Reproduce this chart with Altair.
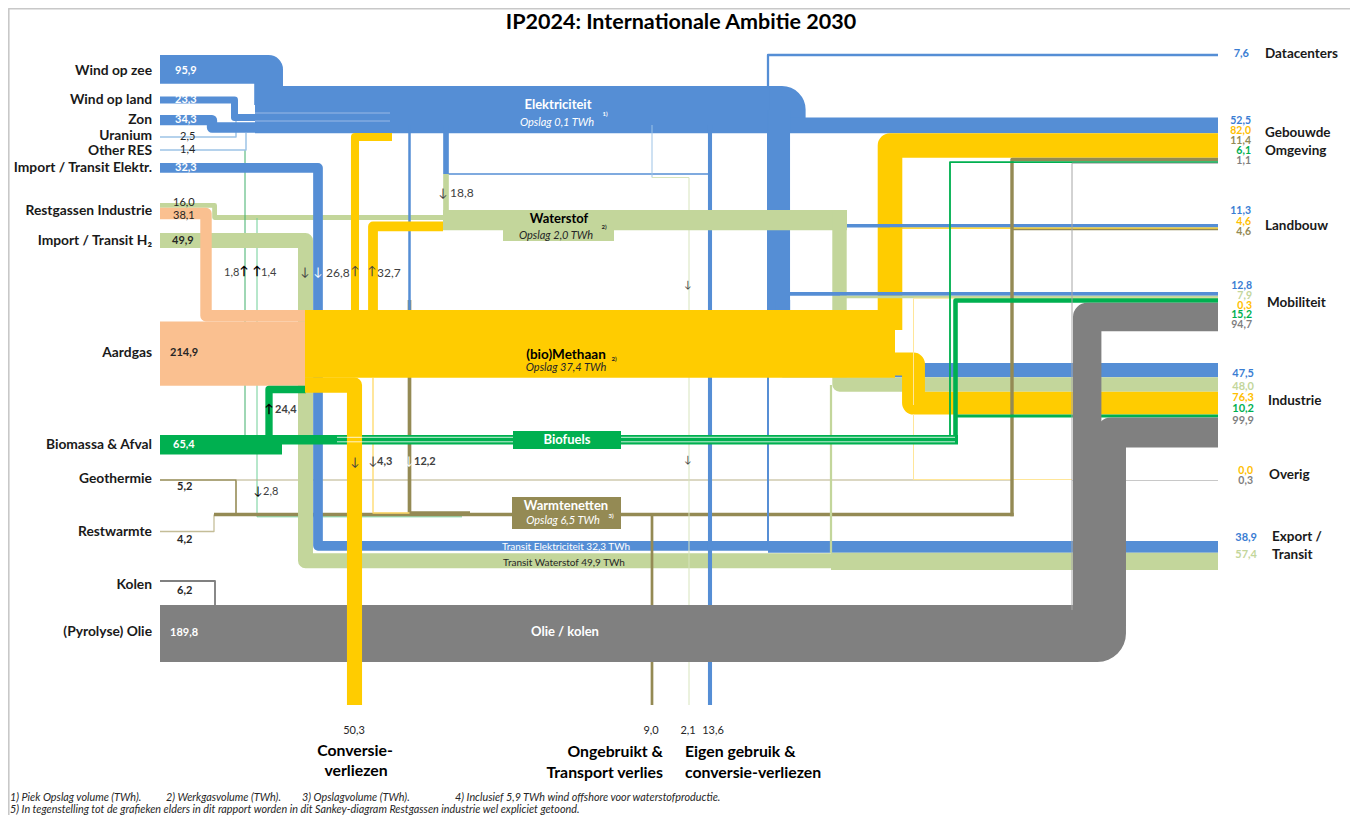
import altair as alt
import pandas as pd

# ---------------- values (TWh) ----------------
SOURCE_NAMES = ["Wind op zee", "Wind op land", "Zon", "Uranium", "Other RES",
                "Import / Transit Elektr.", "Restgassen Industrie", "Import / Transit H₂",
                "Aardgas", "Biomassa & Afval", "Geothermie", "Restwarmte", "Kolen", "(Pyrolyse) Olie"]
ELEC_SOURCES = [95.9, 23.3, 34.3, 2.5, 1.4]      # wind op zee, wind op land, zon, uranium, other RES
IMPORT_ELEC = 32.3
RESTGAS = [16.0, 38.1]                           # waterstof-deel, gas-deel
IMPORT_H2 = 49.9
AARDGAS = 214.9
BIOMASSA = 65.4
HEAT_SOURCES = [5.2, 4.2]                        # geothermie, restwarmte
COAL_OIL = [6.2, 189.8]                          # kolen, olie

SINK_NAMES = ["Datacenters", "Gebouwde Omgeving", "Landbouw", "Mobiliteit", "Industrie", "Overig", "Export / Transit"]
DATACENTERS = [7.6]
GEBOUWDE_OMGEVING = [52.5, 82.0, 11.4, 6.1, 1.1]   # elek, methaan, warmte, biofuels, olie
LANDBOUW = [11.3, 4.6, 4.6]                        # elek, methaan, warmte
MOBILITEIT = [12.8, 7.9, 0.3, 15.2, 94.7]          # elek, waterstof, methaan, biofuels, olie
INDUSTRIE = [47.5, 48.0, 76.3, 10.2, 99.9]         # elek, waterstof, methaan, biofuels, olie
OVERIG = [0.0, 0.3]                                # methaan, olie
EXPORT = [38.9, 57.4]                              # elek, waterstof

# conversions: elek->H2, bio->elek, H2->elek, gas->elek, gas->H2, bio->gas, gas->warmte, gas->warmte, bio->warmte
CONVERSIONS = [18.8, 1.8, 1.4, 26.8, 32.7, 24.4, 4.3, 12.2, 2.8]
LOSSES = [50.3, 9.0, 2.1, 13.6]                    # conversie, ongebruikt, eigen gebruik H2, eigen gebruik elek
METHAAN_BAND = 226.0                               # drawn thickness of the (bio)Methaan band, TWh-equivalent

FOOTNOTES = ["1) Piek Opslag volume (TWh).", "2) Werkgasvolume (TWh).", "3) Opslagvolume (TWh).",
             "4) Inclusief 5,9 TWh wind offshore voor waterstofproductie.",
             "5) In tegenstelling tot de grafieken elders in dit rapport worden in dit Sankey-diagram Restgassen industrie wel expliciet getoond."]

# ---------------- styling / layout ----------------
K = 0.3            # pixels per TWh
FONT = "Lato"
BLUE, LGREEN, YELLOW, PEACH = "#558ED5", "#C3D69B", "#FFCC00", "#FAC090"
GREEN, OLIVE, GRAY = "#00B050", "#948A54", "#808080"
PALEBLUE, PALEGREEN, PALEYELLOW, PALEOLIVE = "#9DC3E6", "#D7E4BD", "#FFE699", "#C4BD97"
DARK = "#262626"
LEFT, RIGHT = 160, 1218


def fmt(v):
    return f"{v:.1f}".replace(".", ",")


def stack(top, values):
    out, y = [], top
    for v in values:
        out.append(y + v * K / 2)
        y += v * K
    return out


go = stack(117.4, GEBOUWDE_OMGEVING)
lb = stack(224.0, LANDBOUW)
mob = stack(292.0, MOBILITEIT)
ind = stack(363.0, INDUSTRIE)
exp_ = stack(541.0, EXPORT)

rows = []


def route(rid, z, color, value, pts, minw=1.0):
    wdt = max(value * K, minw)
    for i, (x, y) in enumerate(pts):
        rows.append(dict(id=rid, z=z, color=color, w=wdt, ord=i, x=x, y=y))


wz = 55 + ELEC_SOURCES[0] * K / 2
wl = 96.5 + ELEC_SOURCES[1] * K / 2
zn = 115 + ELEC_SOURCES[2] * K / 2
ie = 163 + IMPORT_ELEC * K / 2
rg_h2 = 203 + RESTGAS[0] * K / 2
rg_gas = 203 + RESTGAS[0] * K + RESTGAS[1] * K / 2
ih = 233 + IMPORT_H2 * K / 2
ag = 321.4 + AARDGAS * K / 2
bm = 435 + BIOMASSA * K / 2
olie_c = 605 + COAL_OIL[1] * K / 2
meth_c = 310 + METHAAN_BAND * K / 2
biofuel_total = GEBOUWDE_OMGEVING[3] + MOBILITEIT[3] + INDUSTRIE[3]
h2_bus = RESTGAS[0] + CONVERSIONS[0] + CONVERSIONS[4]

# z0 : thin lines underneath
route("frame", 0, "#C8C8C8", 0, [(8.8, 815), (8.8, 8.8), (1350, 8.8)], minw=1.6)
route("restgas_h2", 0, LGREEN, RESTGAS[0], [(LEFT, rg_h2), (214.6, rg_h2), (214.6, 217.5), (447, 217.5)])
route("bio_elec", 0, "#3FAF6A", CONVERSIONS[1], [(245, 436), (245, 150)])
route("bio_warmte", 0, "#6FCF97", CONVERSIONS[8], [(257, 218), (257, 516.8), (462, 516.8)])
route("geo", 0, OLIVE, HEAT_SOURCES[0], [(LEFT, 480), (236, 480), (236, 514.5)])
route("geo_line", 0, "#B7AF86", 0, [(236, 480), (1012, 480)])
route("restwarmte", 0, PALEOLIVE, HEAT_SOURCES[1], [(LEFT, 531.5), (214, 531.5), (214, 514.5)])
route("warmte_bus", 0, OLIVE, GEBOUWDE_OMGEVING[2], [(214, 514.5), (1013.7, 514.5)])
route("gas_warmte", 0, OLIVE, CONVERSIONS[7], [(409.5, 300), (409.5, 513), (470, 513)])
route("gas_warmte2", 0, "#FFD966", CONVERSIONS[6], [(373, 378), (373, 513), (409.5, 513)])
route("overig_olie", 0, "#C8C8C8", OVERIG[1], [(1072, 480.5), (RIGHT, 480.5)])
route("uranium", 0, PALEBLUE, ELEC_SOURCES[3], [(LEFT, 137), (236, 137), (236, 121)], minw=1.5)
route("otherres", 0, PALEBLUE, ELEC_SOURCES[4], [(LEFT, 150), (246, 150), (246, 133)], minw=1.5)

# z1 : electricity + transit
route("import_h2", 1, LGREEN, IMPORT_H2, [(LEFT, ih), (305.5, ih), (305.5, 560.7), (RIGHT, 560.7)])
route("import_elec", 1, BLUE, IMPORT_ELEC, [(LEFT, ie), (318, ie), (318, 545.85), (RIGHT, 545.85)])
route("export_elec", 1, BLUE, EXPORT[0], [(768, exp_[0]), (RIGHT, exp_[0])])
route("export_h2", 1, LGREEN, EXPORT[1], [(831, exp_[1]), (RIGHT, exp_[1])])
route("wind_zee", 1, BLUE, ELEC_SOURCES[0], [(LEFT, wz), (268.6, wz), (268.6, 105)])
route("bus", 1, BLUE, sum(ELEC_SOURCES), [(255, 109.6), (782, 109.6), (782, 118)])
route("wind_land", 1, BLUE, ELEC_SOURCES[1], [(LEFT, wl), (234.5, wl), (234.5, 117.5), (262, 117.5)])
route("zon", 1, BLUE, ELEC_SOURCES[2], [(LEFT, zn), (212, zn), (212, 127.5), (262, 127.5)])
route("go_elec", 1, BLUE, GEBOUWDE_OMGEVING[0], [(780, go[0]), (RIGHT, go[0])])
route("datacenters", 1, BLUE, DATACENTERS[0], [(768, 110), (768, 55), (RIGHT, 55)])
route("export_elec_v", 1, BLUE, EXPORT[0] - IMPORT_ELEC, [(768, 110), (768, 546)])
route("trunk", 1, BLUE, LANDBOUW[0] + MOBILITEIT[0] + INDUSTRIE[0], [(779.3, 110), (779.3, 366)])
route("ind_elec", 1, BLUE, INDUSTRIE[0], [(783, 300), (783, ind[0]), (RIGHT, ind[0])])
route("e_h2", 1, BLUE, CONVERSIONS[0], [(446, 125), (446, 174)])
route("e_h2_line", 1, BLUE, 0, [(446, 174), (710, 174)], minw=1.5)
route("h2_from_e", 1, LGREEN, CONVERSIONS[0], [(446, 174), (446, 216)])
route("e_gas", 1, BLUE, 0, [(409.5, 125), (409.5, 310)], minw=2.5)
route("pale652", 1, PALEBLUE, 0, [(652, 125), (652, 177.5)])
route("eigen_h2", 1, PALEGREEN, LOSSES[2], [(652, 177.5), (689, 177.5), (689, 705)])
route("eigen_elec", 1, BLUE, LOSSES[3], [(710, 125), (710, 705)])
route("warmte_loss", 1, OLIVE, LOSSES[1], [(652, 514), (652, 705)])
route("export_h2_v", 1, LGREEN, EXPORT[1] - IMPORT_H2, [(831, 385), (831, 553)])

# z2 : hydrogen bus
route("h2_bus", 2, LGREEN, h2_bus, [(443, 220.1), (847, 220.1)])
route("ind_h2", 2, LGREEN, INDUSTRIE[1], [(839.5, 212), (839.5, ind[1]), (RIGHT, ind[1])])

# z3 : gas
route("aardgas", 3, PEACH, AARDGAS, [(LEFT, ag), (306, ag)])
route("restgas_gas", 3, PEACH, RESTGAS[1], [(LEFT, rg_gas), (206, rg_gas), (206, 315.7), (306, 315.7)])
route("methaan", 3, YELLOW, METHAAN_BAND, [(305, meth_c), (895, meth_c)])
route("gas_elec", 3, YELLOW, CONVERSIONS[3], [(355, 315), (355, 137.1), (392, 137.1)])
route("gas_h2", 3, YELLOW, CONVERSIONS[4], [(373, 315), (373, 226.4), (443, 226.4)])
route("go_gas", 3, YELLOW, GEBOUWDE_OMGEVING[1], [(890, 330), (890, go[1]), (RIGHT, go[1])])
route("ind_gas", 3, YELLOW, INDUSTRIE[2], [(880, 364), (913.5, 364), (913.5, ind[2]), (RIGHT, ind[2])])
route("bio_gas", 3, GREEN, CONVERSIONS[5], [(269, 444), (269, 389.5), (306, 389.5)])

# z4 : thin right-hand branches and biofuels
route("lb_elec", 4, BLUE, LANDBOUW[0], [(847, lb[0]), (RIGHT, lb[0])])
route("lb_gas", 4, YELLOW, LANDBOUW[1], [(890, lb[1]), (RIGHT, lb[1])])
route("lb_warmte", 4, OLIVE, LANDBOUW[2], [(1012, lb[2]), (RIGHT, lb[2])])
route("mob_elec", 4, BLUE, MOBILITEIT[0], [(785, mob[0]), (RIGHT, mob[0])])
route("mob_h2", 4, LGREEN, MOBILITEIT[1], [(840, mob[1]), (RIGHT, mob[1])])
route("mob_gas", 4, PALEYELLOW, MOBILITEIT[2], [(913.5, 405), (913.5, mob[2]), (RIGHT, mob[2])])
route("overig_gas", 4, PALEYELLOW, OVERIG[0], [(913.5, 414), (913.5, 479.5), (1072, 479.5)])
route("warmte_go", 4, OLIVE, GEBOUWDE_OMGEVING[2], [(1012, 516.2), (1012, go[2]), (RIGHT, go[2])])
route("biomassa", 4, GREEN, BIOMASSA, [(LEFT, bm), (282, bm)])
route("biofuels", 4, GREEN, biofuel_total, [(270, 439.7), (958, 439.7)])
route("go_bio", 4, GREEN, GEBOUWDE_OMGEVING[3], [(950, 440), (950, go[3]), (RIGHT, go[3])])
route("mob_bio", 4, GREEN, MOBILITEIT[3], [(955.5, 440), (955.5, mob[3]), (RIGHT, mob[3])])
route("ind_bio", 4, GREEN, INDUSTRIE[3], [(955.5, 440), (955.5, ind[3]), (RIGHT, ind[3])])

# z5 : oil / coal
route("kolen", 5, GRAY, COAL_OIL[0], [(LEFT, 581), (215, 581), (215, 606)])
route("olie", 5, GRAY, COAL_OIL[1], [(LEFT, olie_c), (1097.5, olie_c), (1097.5, 625)])
route("mob_olie", 5, GRAY, MOBILITEIT[4], [(1087.2, 625), (1087.2, mob[4]), (RIGHT, mob[4])])
route("ind_olie", 5, GRAY, INDUSTRIE[4], [(1111, 625), (1111, ind[4]), (RIGHT, ind[4])])
route("go_olie", 5, "#A6A6A6", GEBOUWDE_OMGEVING[4], [(1072, 610), (1072, go[4]), (RIGHT, go[4])])

# z6 : conversion losses
route("conv_loss", 6, YELLOW, LOSSES[0], [(305, 385.1), (354.5, 385.1), (354.5, 705)])

# z7 : hairlines
route("bf_h1", 7, "#FFFFFF", 0, [(337, 437.3), (955, 437.3)], minw=0.8)
route("bf_h2", 7, "#FFFFFF", 0, [(337, 441.8), (955, 441.8)], minw=0.8)
route("bus_h1", 7, "#A9C4EB", 0, [(255, 113), (390, 113)], minw=0.8)
route("bus_h2", 7, "#A9C4EB", 0, [(255, 121), (390, 121)], minw=0.8)

df = pd.DataFrame(rows)

X = alt.X("x:Q", scale=alt.Scale(domain=[8, 1350], nice=False, zero=False), axis=None)
Y = alt.Y("y:Q", scale=alt.Scale(domain=[8, 815], nice=False, zero=False, reverse=True), axis=None)

layers = []
for z in sorted(df.z.unique()):
    sub = df[df.z == z]
    layers.append(
        alt.Chart(sub).mark_line(strokeJoin="round", strokeCap="butt").encode(
            x=X, y=Y, detail="id:N", order="ord:Q",
            color=alt.Color("color:N", scale=None),
            strokeWidth=alt.StrokeWidth("w:Q", scale=None),
        )
    )

# label boxes
boxes = pd.DataFrame([
    dict(x=503, x2=614, y=210, y2=241, color=LGREEN),
    dict(x=513, x2=621, y=431, y2=449, color=GREEN),
    dict(x=512, x2=621, y=497, y2=529, color=OLIVE),
])
layers.append(alt.Chart(boxes).mark_rect().encode(
    x=X, x2="x2:Q", y=Y, y2="y2:Q", color=alt.Color("color:N", scale=None)))

# ---------------- texts ----------------
texts = []


def T(text, x, y, color=DARK, size=12, weight="normal", style="normal", align="center"):
    texts.append(dict(text=text, x=x, y=y, color=color, size=size, weight=weight, style=style, align=align))


T("IP2024: Internationale Ambitie 2030", 681, 23, "#000000", 21.5, "bold")

left_y = [71, 100, 120, 136, 151, 168, 211, 241, 353, 445, 479, 532, 585, 632]
for name, yy in zip(SOURCE_NAMES, left_y):
    T(name, 152, yy, "#1A1A1A", 13.8, "bold", align="right")

W = "#FFFFFF"
T(fmt(ELEC_SOURCES[0]), 175, 71, W, 11, "bold", align="left")
T(fmt(ELEC_SOURCES[1]), 175, 100, W, 11, "bold", align="left")
T(fmt(ELEC_SOURCES[2]), 175, 120, W, 11, "bold", align="left")
T(fmt(ELEC_SOURCES[3]), 180, 137, DARK, 11, align="left")
T(fmt(ELEC_SOURCES[4]), 180, 150, DARK, 11, align="left")
T(fmt(IMPORT_ELEC), 175, 168, W, 11, "bold", align="left")
T(fmt(RESTGAS[0]), 173, 203, DARK, 11, align="left")
T(fmt(RESTGAS[1]), 173, 216, DARK, 11, align="left")
T(fmt(IMPORT_H2), 172, 241, DARK, 11, "bold", align="left")
T(fmt(AARDGAS), 170, 353, DARK, 11, "bold", align="left")
T(fmt(BIOMASSA), 173, 445, W, 11, "bold", align="left")
T(fmt(HEAT_SOURCES[0]), 177, 487, DARK, 11, "bold", align="left")
T(fmt(HEAT_SOURCES[1]), 177, 540, DARK, 11, "bold", align="left")
T(fmt(COAL_OIL[0]), 177, 591, DARK, 11, "bold", align="left")
T(fmt(COAL_OIL[1]), 170, 633, W, 11, "bold", align="left")

# right-hand names
NAME_C = "#1A1A1A"
T("Datacenters", 1265, 54, NAME_C, 13.5, "bold", align="left")
T("Gebouwde", 1265, 133, NAME_C, 13.5, "bold", align="left")
T("Omgeving", 1265, 151, NAME_C, 13.5, "bold", align="left")
T("Landbouw", 1265, 226, NAME_C, 13.5, "bold", align="left")
T("Mobiliteit", 1267, 303, NAME_C, 13.5, "bold", align="left")
T("Industrie", 1268, 401, NAME_C, 13.5, "bold", align="left")
T("Overig", 1269, 475, NAME_C, 13.5, "bold", align="left")
T("Export /", 1272, 537, NAME_C, 13.5, "bold", align="left")
T("Transit", 1272, 555, NAME_C, 13.5, "bold", align="left")

TB, TY, TO, TG, TGR, TL = "#3A7DD3", "#FFC000", "#948A54", "#00B050", "#7F7F7F", "#C3D69B"
VS = 10.5
T(fmt(DATACENTERS[0]), 1249, 54, TB, 11, "bold", align="right")
for v, c, yy in zip(GEBOUWDE_OMGEVING, [TB, TY, TO, TG, TGR], [121, 131, 141, 151, 161]):
    T(fmt(v), 1251, yy, c, VS, "bold", align="right")
for v, c, yy in zip(LANDBOUW, [TB, TY, TO], [211, 221.5, 232]):
    T(fmt(v), 1251, yy, c, VS, "bold", align="right")
for v, c, yy in zip(MOBILITEIT, [TB, TL, TY, TG, TGR], [286, 296, 305.5, 315, 325]):
    T(fmt(v), 1252, yy, c, VS, "bold", align="right")
for v, c, yy in zip(INDUSTRIE, [TB, TL, TY, TG, TGR], [374, 386.5, 397.5, 409, 421]):
    T(fmt(v), 1254, yy, c, 11, "bold", align="right")
for v, c, yy in zip(OVERIG, [TY, TGR], [471, 481]):
    T(fmt(v), 1253, yy, c, VS, "bold", align="right")
for v, c, yy in zip(EXPORT, [TB, TL], [538, 555]):
    T(fmt(v), 1257, yy, c, 11, "bold", align="right")

# hub labels
T("Elektriciteit", 558, 105, W, 13, "bold")
T("Opslag 0,1 TWh", 557, 123, W, 11, style="italic")
T("1)", 605, 114, W, 6, "bold")
T("Waterstof", 559, 219, "#000000", 13, "bold")
T("Opslag 2,0 TWh", 556, 236, DARK, 11, style="italic")
T("2)", 604, 227, DARK, 6, "bold")
T("(bio)Methaan", 566, 355, "#000000", 13.5, "bold")
T("Opslag 37,4 TWh", 566, 368, DARK, 11, style="italic")
T("2)", 614, 359, DARK, 6, "bold")
T("Biofuels", 567, 440, W, 13, "bold")
T("Warmtenetten", 566, 506, W, 13, "bold")
T("Opslag 6,5 TWh", 563, 521, W, 11, style="italic")
T("3)", 611, 516, W, 6, "bold")
T("Olie / kolen", 565, 632, W, 13, "bold")
T("Transit Elektriciteit 32,3 TWh", 566, 546.5, W, 10)
T("Transit Waterstof 49,9 TWh", 564, 562.5, DARK, 10)

# conversion arrows / values
A = "#404040"
T("↓", 443, 193, A, 12)
T(fmt(CONVERSIONS[0]), 450, 193, A, 12, align="left")
T(fmt(CONVERSIONS[1]), 224, 273, A, 11, align="left")
T("↑", 244, 271, "#000000", 12, "bold")
T("↑", 257, 271, "#000000", 12, "bold")
T(fmt(CONVERSIONS[2]), 261, 273, A, 11, align="left")
T("↓", 305, 272, A, 12)
T("↓", 318, 272, W, 12)
T(fmt(CONVERSIONS[3]), 326, 273, A, 12, align="left")
T("↑", 355, 271, A, 12)
T("↑", 372, 271, A, 12)
T(fmt(CONVERSIONS[4]), 377, 273, A, 12, align="left")
T("↑", 269, 409, "#000000", 12, "bold")
T(fmt(CONVERSIONS[5]), 275, 410, A, 11, "bold", align="left")
T("↓", 355, 462, A, 12)
T("↓", 373, 461, A, 12)
T(fmt(CONVERSIONS[6]), 377, 462, A, 11, "bold", align="left")
T("↓", 409, 461, W, 12)
T(fmt(CONVERSIONS[7]), 414, 462, A, 11, "bold", align="left")
T("↓", 258, 491, "#000000", 12)
T(fmt(CONVERSIONS[8]), 263, 492, A, 11, align="left")
T("↓", 688, 285, A, 10)
T("↓", 688, 460, A, 10)

# losses
T(fmt(LOSSES[0]), 354, 731, DARK, 11)
T(fmt(LOSSES[1]), 651, 731, DARK, 11)
T(fmt(LOSSES[2]), 688, 731, DARK, 11)
T(fmt(LOSSES[3]), 713, 731, DARK, 11)
BL = 15.8
T("Conversie-", 355, 751, "#000000", BL, "bold")
T("verliezen", 356, 771, "#000000", BL, "bold")
T("Ongebruikt &", 663, 752, "#000000", BL, "bold", align="right")
T("Transport verlies", 663, 773, "#000000", BL, "bold", align="right")
T("Eigen gebruik &", 685, 752, "#000000", BL, "bold", align="left")
T("conversie-verliezen", 685, 773, "#000000", BL, "bold", align="left")

# footnotes
for txt, xx in zip(FOOTNOTES[:4], [10, 166, 302, 455]):
    T(txt, xx, 797.5, DARK, 10.8, style="italic", align="left")
T(FOOTNOTES[4], 10, 810, DARK, 10.8, style="italic", align="left")

tdf = pd.DataFrame(texts)
for (wgt, sty, aln), g in tdf.groupby(["weight", "style", "align"]):
    layers.append(
        alt.Chart(g).mark_text(font=FONT, fontWeight=wgt, fontStyle=sty, align=aln, baseline="middle").encode(
            x=X, y=Y, text="text:N",
            color=alt.Color("color:N", scale=None),
            size=alt.Size("size:Q", scale=None),
        )
    )

chart = alt.layer(*layers).properties(
    width=1342, height=807, padding=0, autosize=alt.AutoSizeParams(type="none")
).configure_view(stroke=None).configure(background="white")

chart.save("out.html", embed_options={"renderer": "svg", "actions": False})
